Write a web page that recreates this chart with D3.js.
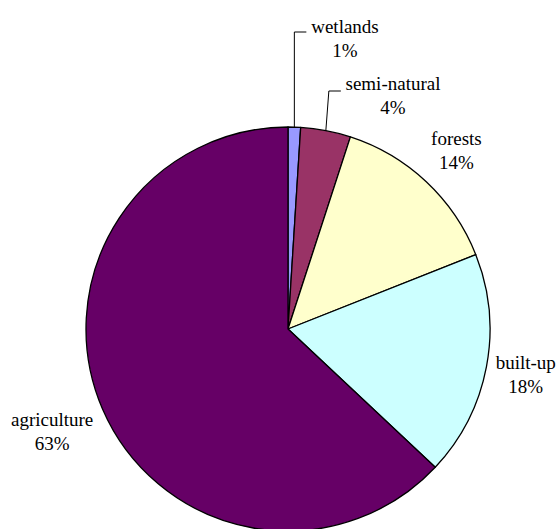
<!DOCTYPE html>
<html>
<head>
<meta charset="utf-8">
<script src="https://cdn.jsdelivr.net/npm/d3@7"></script>
</head>
<body style="margin:0">
<script>
// Land use shares (%)
const categories = ["wetlands", "semi-natural", "forests", "built-up", "agriculture"];
const shares = [1, 4, 14, 18, 63];
const colors = ["#9999FF", "#993366", "#FFFFCC", "#CCFFFF", "#660066"];

const width = 560, height = 529;
const cx = 288, cy = 329, radius = 202;

const svg = d3.select("body").append("svg")
  .attr("width", width).attr("height", height)
  .style("display", "block")
  .style("font-family", '"Liberation Serif"');

const data = categories.map((c, i) => ({ name: c, value: shares[i], color: colors[i] }));

const pie = d3.pie().value(d => d.value).sort(null);
const arc = d3.arc().innerRadius(0).outerRadius(radius);
const arcs = pie(data);

const g = svg.append("g").attr("transform", `translate(${cx},${cy})`);

g.selectAll("path.slice")
  .data(arcs)
  .join("path")
  .attr("class", "slice")
  .attr("d", arc)
  .attr("fill", d => d.data.color)
  .attr("stroke", "#000")
  .attr("stroke-width", 1.3)
  .attr("stroke-linejoin", "round");

function polar(angle, r) {
  return [r * Math.sin(angle), -r * Math.cos(angle)];
}

// Label radius per slice; the two thin slices get labels lifted above the pie
const labelRadius = { "forests": 246, "built-up": 242, "agriculture": 257 };
const lifted = {
  "wetlands": { x: 57, y: -291, elbowY: -297, slant: 0 },
  "semi-natural": { x: 105, y: -234, elbowY: -238, slant: 3 }
};

arcs.forEach(d => {
  const mid = (d.startAngle + d.endAngle) / 2;
  let x, y;
  const p = lifted[d.data.name];
  if (p) {
    x = p.x; y = p.y;
    const [ex, ey] = polar(mid, radius);
    const pts = [[ex, ey], [ex + p.slant, p.elbowY], [ex + p.slant + 12, p.elbowY]];
    g.append("path")
      .attr("d", d3.line()(pts))
      .attr("fill", "none")
      .attr("stroke", "#000")
      .attr("stroke-width", 1);
  } else {
    [x, y] = polar(mid, labelRadius[d.data.name]);
  }
  [[d.data.name, y - 5], [d.data.value + "%", y + 19]].forEach(([s, ty]) => {
    g.append("text")
      .attr("x", x).attr("y", ty)
      .attr("text-anchor", "middle")
      .attr("font-size", 19)
      .style("font-family", '"Liberation Serif"')
      .text(s);
  });
});
</script>
</body>
</html>
